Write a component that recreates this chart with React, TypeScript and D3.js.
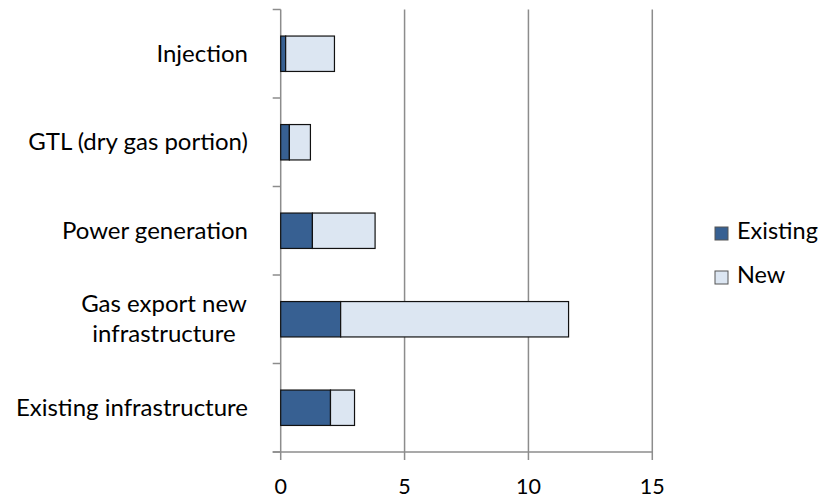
import React from "react";
import * as d3 from "d3";

const categories = [
  "Injection",
  "GTL (dry gas portion)",
  "Power generation",
  "Gas export new infrastructure",
  "Existing infrastructure",
];
const categoryLines = [
  ["Injection"],
  ["GTL (dry gas portion)"],
  ["Power generation"],
  ["Gas export new", "infrastructure"],
  ["Existing infrastructure"],
];
const existingValues = [0.2, 0.35, 1.28, 2.42, 2.01];
const newValues = [1.97, 0.85, 2.53, 9.2, 0.97];
const seriesNames = ["Existing", "New"];
const seriesColors = ["#376092", "#DCE6F2"];
const xTicks = [0, 5, 10, 15];

const W = 819;
const H = 499;
const left = 280.7;
const right = 652.3;
const top = 9.5;
const bottom = 452;
const FONT = "Lato, 'Open Sans', sans-serif";
const FS = 24;
const FS_TICK = 21.5;

export default function App() {
  const x = d3.scaleLinear().domain([0, 15]).range([left, right]);
  const y = d3
    .scaleBand<string>()
    .domain(categories)
    .range([top, bottom])
    .paddingInner(0.6)
    .paddingOuter(0.3);
  const step = y.step();
  const bw = y.bandwidth();
  const boundaries = categories.map((c) => (y(c) as number) - (step - bw) / 2);
  boundaries.push(bottom);

  const stacked = categories.map((c, i) => {
    const e = existingValues[i];
    const n = newValues[i];
    return [
      { x0: 0, x1: e, color: seriesColors[0] },
      { x0: e, x1: e + n, color: seriesColors[1] },
    ];
  });

  return (
    <svg
      width={W}
      height={H}
      style={{ position: "absolute", left: 0, top: 0 }}
      fontFamily={FONT}
    >
      <rect x={0} y={0} width={W} height={H} fill="#fff" />
      {xTicks.slice(1).map((t) => (
        <line
          key={"g" + t}
          x1={x(t)}
          x2={x(t)}
          y1={top}
          y2={bottom + 8}
          stroke="#8c8c8c"
          strokeWidth={1.5}
        />
      ))}
      <line x1={left - 8} x2={right} y1={bottom} y2={bottom} stroke="#8c8c8c" strokeWidth={1.5} />
      <line x1={left} x2={left} y1={top} y2={bottom + 8} stroke="#8c8c8c" strokeWidth={1.5} />
      {boundaries.map((b, i) => (
        <line key={"t" + i} x1={left - 8} x2={left} y1={b} y2={b} stroke="#8c8c8c" strokeWidth={1.5} />
      ))}
      {categories.map((c, i) =>
        stacked[i].map((s, j) => (
          <rect
            key={c + j}
            x={x(s.x0)}
            y={y(c)}
            width={x(s.x1) - x(s.x0)}
            height={bw}
            fill={s.color}
            stroke="#111"
            strokeWidth={1.2}
          />
        ))
      )}
      {xTicks.map((t) => (
        <text key={"xl" + t} x={x(t)} y={494} textAnchor="middle" fontSize={FS_TICK} fill="#000">
          {t}
        </text>
      ))}
      {categories.map((c, i) => {
        const lines = categoryLines[i];
        const cy = (y(c) as number) + bw / 2;
        const lh = 30;
        if (lines.length === 1) {
          return (
            <text key={"cl" + i} x={248} y={cy + 8} textAnchor="end" fontSize={FS} fill="#000">
              {lines[0]}
            </text>
          );
        }
        return (
          <text key={"cl" + i} x={164} textAnchor="middle" fontSize={FS} fill="#000">
            {lines.map((l, k) => (
              <tspan key={k} x={164} y={cy + 8 + (k - (lines.length - 1) / 2) * lh}>
                {l}
              </tspan>
            ))}
          </text>
        );
      })}
      {seriesNames.map((s, i) => (
        <g key={"lg" + i} transform={`translate(715,${227 + i * 44})`}>
          <rect x={0} y={0} width={13} height={13} fill={seriesColors[i]} stroke="#555" strokeWidth={1} />
          <text x={22} y={12} fontSize={FS - 0.5} fill="#000">
            {s}
          </text>
        </g>
      ))}
    </svg>
  );
}
